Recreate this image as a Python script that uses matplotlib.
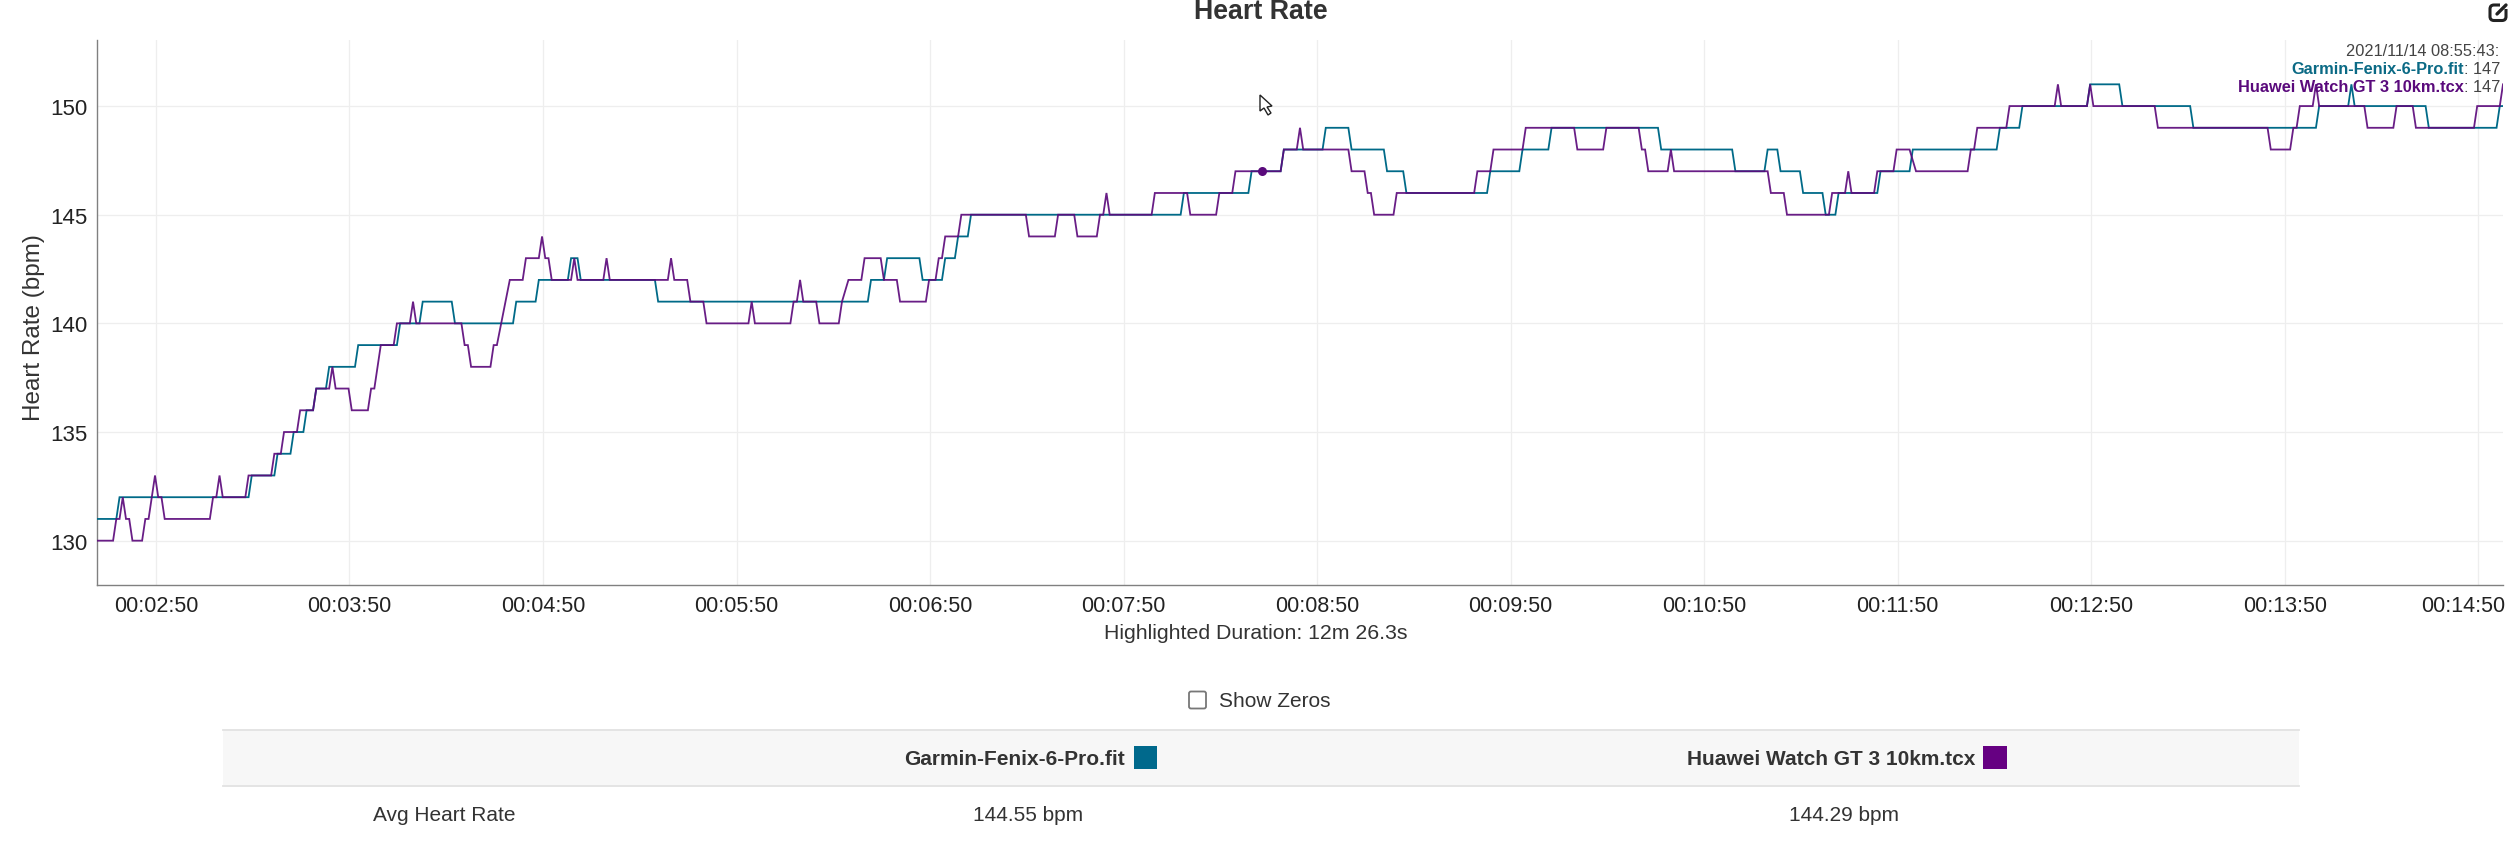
import matplotlib
matplotlib.use("Agg")
import matplotlib.pyplot as plt
from matplotlib.patches import Rectangle, Polygon, FancyBboxPatch
from matplotlib.ticker import FuncFormatter
from matplotlib.transforms import ScaledTranslation

plt.rcParams['font.family'] = ['Liberation Sans', 'DejaVu Sans']

SAMPLE_SHIFT = -0.3  # recording clock offset in seconds

garmin_t = [152,158,159,199,200,207,208,212,213,216,217,219,220,223,224,232,233,245,246,252,253,262,263,281,282,288,289,
            298,299,301,302,325,326,391,392,396,397,407,408,414,415,418,419,422,423,488,489,509,510,519,520,
            532,533,540,541,551,552,557,558,583,584,593,594,602,603,636,637,659,660,669,670,673,674,
            680,681,687,688,691,692,704,705,714,715,741,742,748,749,769,770,779,780,801,802,
            840,841,850,851,852,874,875,896,897,898]
garmin_hr = [131,131,132,132,133,133,134,134,135,135,136,136,137,137,138,138,139,139,140,140,141,141,140,140,141,141,142,
             142,143,143,142,142,141,141,142,142,143,143,142,142,143,143,144,144,145,145,146,146,147,147,148,
             148,149,149,148,148,147,147,146,146,147,147,148,148,149,149,148,148,147,147,148,148,147,
             147,146,146,145,145,146,146,147,147,148,148,149,149,150,150,151,151,150,150,149,
             149,150,150,151,150,150,149,149,150,150]

huawei_t = [152,157,158,159,160,161,162,163,166,167,168,170,171,172,173,187,188,189,190,191,198,199,206,207,209,210,214,215,219,220,
            224,225,226,230,231,236,237,238,240,244,245,249,250,251,265,266,267,268,274,275,276,280,284,285,289,290,291,292,293,
            299,300,301,309,310,311,329,330,331,335,336,340,341,354,355,356,367,368,369,370,371,375,376,
            382,383,385,389,390,395,396,400,401,409,410,412,413,414,415,419,420,440,441,449,450,455,456,462,463,464,465,466,
            479,480,490,491,499,500,504,505,519,520,524,525,526,
            540,541,545,546,547,548,554,555,579,580,584,585,594,595,610,611,619,620,630,631,632,633,639,640,641,670,671,675,676,
            689,690,694,695,696,703,704,709,710,714,716,732,733,734,735,744,745,759,760,761,769,770,771,790,791,
            825,826,832,833,834,835,839,840,841,855,856,864,865,870,871,889,890,897,898]
huawei_hr = [130,130,131,131,132,131,131,130,130,131,131,133,132,132,131,131,132,132,133,132,132,133,133,134,134,135,135,136,136,137,
             137,138,137,137,136,136,137,137,139,139,140,140,141,140,140,139,139,138,138,139,139,142,142,143,143,144,143,143,142,
             142,143,142,142,143,142,142,143,142,142,141,141,140,140,141,140,140,141,141,142,141,141,140,
             140,141,142,142,143,143,142,142,141,141,142,142,143,143,144,144,145,145,144,144,145,145,144,144,145,145,146,145,
             145,146,146,145,145,146,146,147,147,148,148,149,148,
             148,147,147,146,146,145,145,146,146,147,147,148,148,149,149,148,148,149,149,148,148,147,147,148,147,147,146,146,145,
             145,146,146,147,146,146,147,147,148,148,147,147,148,148,149,149,150,150,151,150,150,151,150,150,149,
             149,148,148,149,149,150,150,151,150,150,149,149,150,150,149,149,150,150,151]

marker_t = [512.8]
marker_hr = [147]

tick_seconds = [170 + 60 * i for i in range(13)]
hr_ticks = [130, 135, 140, 145, 150]

table_headers = ["Garmin-Fenix-6-Pro.fit", "Huawei Watch GT 3 10km.tcx"]
avg_values = ["144.55 bpm", "144.29 bpm"]

TEAL = '#006a88'
PURPLE = '#5c0a7c'
W, H = 2512, 845

fig = plt.figure(figsize=(W / 100, H / 100), dpi=100, facecolor='white')
L, R, T, B = 96.8, 2503, 41, 586
ax = fig.add_axes([L / W, 1 - B / H, (R - L) / W, (B - T) / H])
ax.set_xlim(151.65, 897.7)
ax.set_ylim(127.96, 153.04)

ax.plot([t + SAMPLE_SHIFT for t in garmin_t], garmin_hr, color=TEAL, lw=1.3, solid_joinstyle='miter', zorder=3)
ax.plot([t + SAMPLE_SHIFT for t in huawei_t], huawei_hr, color=PURPLE, lw=1.3, alpha=0.92, solid_joinstyle='miter', zorder=4)
ax.plot(marker_t, marker_hr, 'o', color='#5a0a7c', ms=6.5, mew=0, zorder=5)

ax.set_xticks(tick_seconds)
ax.xaxis.set_major_formatter(FuncFormatter(lambda s, _: f"00:{int(s)//60:02d}:{int(s)%60:02d}"))
ax.set_yticks(hr_ticks)
ax.grid(True, color='#eeeeee', lw=0.9)
ax.set_axisbelow(True)
for s in ('top', 'right'):
    ax.spines[s].set_visible(False)
for s in ('left', 'bottom'):
    ax.spines[s].set_color('#808080')
    ax.spines[s].set_linewidth(1.0)
ax.tick_params(axis='x', length=0, labelsize=15.5, labelcolor='#222222', pad=7)
ax.tick_params(axis='y', length=0, labelsize=16, labelcolor='#222222', pad=7)
last = ax.get_xticklabels()[-1]
last.set_ha('right')
last.set_transform(last.get_transform() + ScaledTranslation(27 / 100, 0, fig.dpi_scale_trans))

# overlay in figure pixels for page furniture
ov = fig.add_axes([0, 0, 1, 1], facecolor='none')
ov.set_xlim(0, W)
ov.set_ylim(H, 0)
ov.axis('off')

ov.text(1261, 12, "Heart Rate", ha='center', va='center', fontsize=19.3, fontweight='bold', color='#333333')
ov.text(34, 328, "Heart Rate (bpm)", rotation=90, ha='center', va='center', fontsize=17.5, color='#333333')
ov.text(1256, 634, "Highlighted Duration: 12m 26.3s", ha='center', va='center', fontsize=15.3, color='#333333')

# tooltip
tip_x = 2464
ov.text(2499, 51, "2021/11/14 08:55:43:", ha='right', va='center', fontsize=11.8, color='#444444')
ov.text(tip_x, 70, table_headers[0], ha='right', va='center', fontsize=11.8, fontweight='bold', color='#0b6a85')
ov.text(tip_x, 70, ": 147", ha='left', va='center', fontsize=11.8, color='#444444')
ov.text(tip_x, 88, table_headers[1], ha='right', va='center', fontsize=11.8, fontweight='bold', color='#5a0a7c')
ov.text(tip_x, 88, ": 147", ha='left', va='center', fontsize=11.8, color='#444444')

# edit icon
ov.add_patch(FancyBboxPatch((2490, 6), 16, 15.5, boxstyle='round,pad=0,rounding_size=4', fc='none', ec='#222222', lw=2.2))
ov.add_patch(Rectangle((2500, 2), 8, 8, fc='white', ec='none'))
ov.plot([2497, 2506], [15, 6], color='#222222', lw=2.4, solid_capstyle='round')

# mouse cursor
ov.add_patch(Polygon([(1260, 96), (1260, 112), (1264, 109), (1268, 116), (1271, 114), (1267, 108), (1272, 107)],
                     closed=True, fc='white', ec='#222222', lw=1))

# show zeros
ov.add_patch(FancyBboxPatch((1189, 692.5), 17, 17, boxstyle='round,pad=0,rounding_size=2', fc='white', ec='#777777', lw=1.3))
ov.text(1219, 702, "Show Zeros", ha='left', va='center', fontsize=15, color='#333333')

# table
ov.add_patch(Rectangle((223, 731), 2076, 56, fc='#f7f7f7', ec='none'))
ov.plot([223, 2299], [731, 731], color='#e2e2e2', lw=1.3)
ov.plot([223, 2299], [787, 787], color='#e2e2e2', lw=1.3)
ov.text(1125, 760, table_headers[0], ha='right', va='center', fontsize=15, fontweight='bold', color='#333333')
ov.add_patch(Rectangle((1134, 747), 23, 23, fc='#00698c', ec='none'))
ov.text(1975, 760, table_headers[1], ha='right', va='center', fontsize=15, fontweight='bold', color='#333333')
ov.add_patch(Rectangle((1983, 747), 24, 23, fc='#660082', ec='none'))
ov.text(444, 816, "Avg Heart Rate", ha='center', va='center', fontsize=15, color='#333333')
ov.text(1028, 816, avg_values[0], ha='center', va='center', fontsize=15, color='#333333')
ov.text(1844, 816, avg_values[1], ha='center', va='center', fontsize=15, color='#333333')

fig.savefig('out.png', dpi=100)
